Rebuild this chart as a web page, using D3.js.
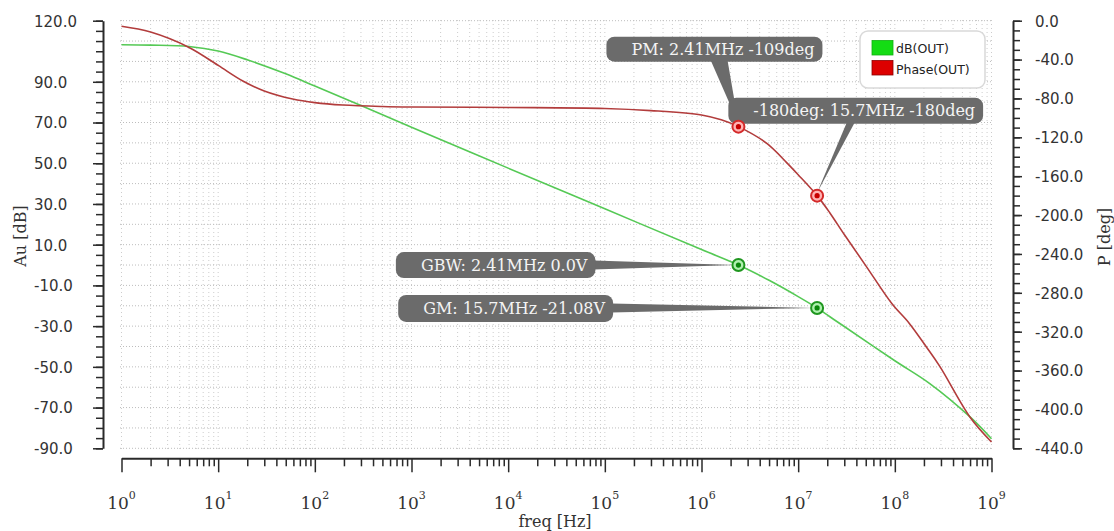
<!DOCTYPE html>
<html><head><meta charset="utf-8">
<script src="https://cdn.jsdelivr.net/npm/d3@7"></script>
<style>body{margin:0;background:#fff;} svg{display:block}</style>
</head><body><svg id="c" width="1114" height="531"></svg>
<script>
// ---- data ----
const gainFreqHz = [1, 2, 5, 10, 20, 50, 100, 300, 1e3, 1e4, 1e5, 1e6, 2.41e6, 5e6, 1e7, 1.57e7, 2.13e7, 3e7, 1e8, 2.3e8, 6e8, 1e9];
const gainDb     = [108.2, 108.0, 107.3, 105.1, 100.8, 93.9, 87.9, 78.3, 67.7, 47.6, 27.6, 7.6, 0, -7.5, -15.5, -21.08, -25.4, -30.2, -47.0, -58.2, -74.6, -85.3];
const phaseFreqHz = [1, 2, 5, 10, 18, 30, 59, 100, 195, 500, 1e3, 1e4, 1e5, 3e5, 1e6, 1.6e6, 2.41e6, 4.7e6, 7.6e6, 1e7, 1.57e7, 2.13e7, 3e7, 5e7, 9.3e7, 1.4e8, 2.13e8, 2.93e8, 6e8, 1e9];
const phaseDeg    = [-5.7, -11.7, -27.5, -46, -62, -72.3, -80.6, -84.3, -86.8, -88.3, -88.8, -89.3, -90.3, -92.5, -97, -102, -109, -126, -146, -158.5, -180, -197.8, -220, -252, -291, -311, -336, -356, -408, -433.5];

const leftTickLabels  = [120, 90, 70, 50, 30, 10, -10, -30, -50, -70, -90];
const rightTickLabels = [0, -40, -80, -120, -160, -200, -240, -280, -320, -360, -400, -440];
const decadeExponents = [0, 1, 2, 3, 4, 5, 6, 7, 8, 9];

const seriesNames = ["dB(OUT)", "Phase(OUT)"];
const markerLabels = ["PM: 2.41MHz -109deg", "-180deg: 15.7MHz -180deg", "GBW: 2.41MHz 0.0V", "GM: 15.7MHz -21.08V"];
const markerFreqHz = [2.41e6, 1.57e7, 2.41e6, 1.57e7];
const markerValues = [-109, -180, 0, -21.08];
const markerSeries = ["phase", "phase", "gain", "gain"];

// ---- layout ----
const svg = d3.select("#c");
const x  = d3.scaleLog().domain([1, 1e9]).range([121.5, 991.5]);
const yL = d3.scaleLinear().domain([-90, 120]).range([448.3, 20.7]);
const yR = d3.scaleLinear().domain([-440, 0]).range([448.3, 20.7]);

const colGain = "#55c955", colPhase = "#b23c3c";

// grid
const minorF = [];
for (let e = 0; e < 9; e++) for (let m = 1; m < 10; m++) minorF.push(m * Math.pow(10, e));
minorF.push(1e9);
const grid = svg.append("g");
grid.selectAll("line.v").data(minorF).join("line")
  .attr("x1", d => x(d)).attr("x2", d => x(d)).attr("y1", 20).attr("y2", 450)
  .attr("stroke", "#cccccc").attr("stroke-width", 1).attr("stroke-dasharray", "1,3");
grid.selectAll("line.h").data(d3.range(-90, 121, 10)).join("line")
  .attr("x1", 120).attr("x2", 993).attr("y1", d => yL(d)).attr("y2", d => yL(d))
  .attr("stroke", "#bdbdbd").attr("stroke-width", 1).attr("stroke-dasharray", "1,2");

// axes
const tickFont = "'DejaVu Sans', sans-serif";
const serif = "'DejaVu Serif', serif";
function styleAxis(g, w) {
  g.select(".domain").attr("stroke", "#2a2a2a").attr("stroke-width", w);
  g.selectAll(".tick line").attr("stroke", "#2a2a2a").attr("stroke-width", 1.5);
}
const gl = svg.append("g").attr("transform", "translate(103,0)");
gl.append("g").call(d3.axisLeft(yL).tickValues(d3.range(-90, 121, 5)).tickSize(7).tickSizeOuter(0).tickFormat(""))
  .call(g => styleAxis(g, 2));
gl.append("g").call(d3.axisLeft(yL).tickValues(leftTickLabels).tickSize(10).tickSizeOuter(0).tickFormat(d => d.toFixed(1)))
  .call(g => { g.select(".domain").remove(); styleAxis(g, 2); })
  .call(g => g.selectAll("text").attr("text-anchor", "start").attr("x", 34 - 103).attr("dy", "0.36em")
      .style("font-family", tickFont).style("font-size", "15px").attr("fill", "#333"));

const gr = svg.append("g").attr("transform", "translate(1013,0)");
gr.append("g").call(d3.axisRight(yR).tickValues(d3.range(-440, 1, 10)).tickSize(7).tickSizeOuter(0).tickFormat(""))
  .call(g => styleAxis(g, 2));
gr.append("g").call(d3.axisRight(yR).tickValues(rightTickLabels).tickSize(9).tickSizeOuter(0).tickFormat(d => d.toFixed(1)))
  .call(g => { g.select(".domain").remove(); styleAxis(g, 2); })
  .call(g => g.selectAll("text").attr("x", 22).attr("dy", "0.36em")
      .style("font-family", tickFont).style("font-size", "15px").attr("fill", "#333"));

const gb = svg.append("g").attr("transform", "translate(0,458.3)");
const minorOnly = minorF.filter(f => Math.abs(Math.log10(f) - Math.round(Math.log10(f))) > 1e-9);
gb.append("g").call(d3.axisBottom(x).tickValues(minorOnly).tickSize(8).tickSizeOuter(0).tickFormat(""))
  .call(g => styleAxis(g, 2));
gb.append("g").call(d3.axisBottom(x).tickValues(decadeExponents.map(e => Math.pow(10, e))).tickSize(14).tickSizeOuter(0).tickFormat(""))
  .call(g => { g.select(".domain").remove(); styleAxis(g, 2); });
const dl = gb.selectAll("text.dec").data(decadeExponents).join("text")
  .attr("x", d => x(Math.pow(10, d))).attr("y", 51).attr("text-anchor", "middle")
  .style("font-family", serif).style("font-size", "17px").attr("fill", "#333");
dl.append("tspan").text("10");
dl.append("tspan").attr("dy", -10).style("font-size", "11px").text(d => d);

// axis titles
svg.append("text").attr("transform", "translate(26,236) rotate(-90)").attr("text-anchor", "middle")
  .style("font-family", serif).style("font-size", "16px").attr("fill", "#333").text("Au [dB]");
svg.append("text").attr("transform", "translate(1110,237) rotate(-90)").attr("text-anchor", "middle")
  .style("font-family", serif).style("font-size", "16px").attr("fill", "#333").text("P [deg]");
svg.append("text").attr("x", 555).attr("y", 527).attr("text-anchor", "middle")
  .style("font-family", serif).style("font-size", "16px").attr("fill", "#333").text("freq [Hz]");

// curves
const gainPts = gainFreqHz.map((f, i) => [f, gainDb[i]]);
const phasePts = phaseFreqHz.map((f, i) => [f, phaseDeg[i]]);
const smooth = d3.curveCatmullRom.alpha(0.5);
svg.append("path").datum(gainPts).attr("fill", "none").attr("stroke", colGain).attr("stroke-width", 1.6)
  .attr("d", d3.line().x(d => x(d[0])).y(d => yL(d[1])).curve(smooth));
svg.append("path").datum(phasePts).attr("fill", "none").attr("stroke", colPhase).attr("stroke-width", 1.6)
  .attr("d", d3.line().x(d => x(d[0])).y(d => yR(d[1])).curve(smooth));

// callouts (box offsets relative to the marker)
const boxLayout = [
  {right: 84, top: -90, h: 25, ptr: "down", b1: -28, b2: -11},
  {right: 166, top: -98, h: 26, ptr: "down", b1: 30, b2: 38},
  {right: -143, top: -13, h: 26, ptr: "left"},
  {right: -204, top: -13, h: 27, ptr: "left"}
];
const markers = markerLabels.map((lab, i) => {
  const mx = x(markerFreqHz[i]);
  const my = markerSeries[i] === "phase" ? yR(markerValues[i]) : yL(markerValues[i]);
  return {lab, mx, my, s: markerSeries[i], L: boxLayout[i]};
});
const cg = svg.append("g");
markers.forEach(m => {
  const g = cg.append("g");
  const t = g.append("text").text(m.lab).style("font-family", serif).style("font-size", "16px")
    .attr("fill", "#f4f4f4").attr("text-anchor", "end");
  const tw = t.node().getComputedTextLength();
  const R = m.mx + m.L.right, T = m.my + m.L.top, Wb = tw + 33, Hb = m.L.h;
  let pts;
  if (m.L.ptr === "down") pts = [[m.mx + m.L.b1, T + Hb - 2], [m.mx + m.L.b2, T + Hb - 2], [m.mx, m.my - 3]];
  else pts = [[R - 2, m.my - 4.5], [R - 2, m.my + 4.5], [m.mx - 3, m.my]];
  g.insert("path", "text").attr("d", "M" + pts.map(p => p.join(",")).join("L") + "Z").attr("fill", "#6b6b6b");
  g.insert("rect", "text").attr("x", R - Wb).attr("y", T).attr("width", Wb).attr("height", Hb).attr("rx", 8).attr("fill", "#6b6b6b");
  t.attr("x", R - 8).attr("y", T + Hb / 2).attr("dy", "0.36em");
});
markers.forEach(m => {
  const ph = m.s === "phase";
  cg.append("circle").attr("cx", m.mx).attr("cy", m.my).attr("r", 6)
    .attr("fill", ph ? "#ffb3b3" : "#aef0ae").attr("stroke", ph ? "#d42a2a" : "#1f961f").attr("stroke-width", 2);
  cg.append("circle").attr("cx", m.mx).attr("cy", m.my).attr("r", 2.6).attr("fill", ph ? "#c80000" : "#0a880a");
});

// legend
const lg = svg.append("g");
lg.append("rect").attr("x", 860).attr("y", 31).attr("width", 125).attr("height", 57).attr("rx", 8)
  .attr("fill", "#fff").attr("stroke", "#d9d9d9").attr("stroke-width", 1.5);
const swCol = ["#14dc14", "#dd0000"], swStroke = ["#10b010", "#8a0000"];
seriesNames.forEach((n, i) => {
  lg.append("rect").attr("x", 872).attr("y", 40.5 + i * 20).attr("width", 21).attr("height", 14.5)
    .attr("fill", swCol[i]).attr("stroke", swStroke[i]).attr("stroke-width", 0.8);
  lg.append("text").attr("x", 896).attr("y", 53 + i * 20.5).text(n)
    .style("font-family", tickFont).style("font-size", "12.5px").attr("fill", "#222");
});
</script></body></html>
